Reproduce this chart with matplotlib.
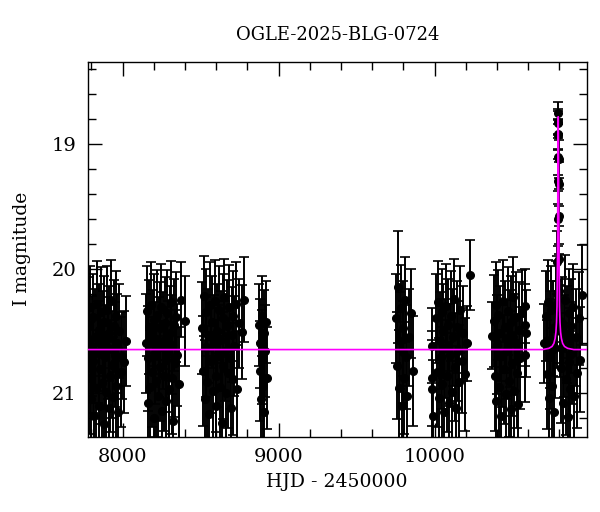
import numpy as np
import matplotlib
matplotlib.use('Agg')
import matplotlib.pyplot as plt
from matplotlib.ticker import MultipleLocator

plt.rcParams['font.family'] = ['DejaVu Serif']

# Light curve seasons (HJD - 2450000, I mag, error)
s1_t = [7782, 7788, 7793, 7797, 7803, 7809, 7812, 7818, 7824, 7829, 7833, 7840, 7846, 7851,
        7855, 7861, 7867, 7872, 7878, 7883, 7887, 7893, 7899, 7904, 7910, 7915, 7921, 7926,
        7932, 7938, 7943, 7949, 7955, 7960, 7966, 7972, 7979, 7986, 7995, 8010, 8024]
s1_m = [20.45, 20.88, 20.31, 21.05, 20.62, 20.74, 20.39, 21.18, 20.55, 20.96, 20.28, 20.67,
        21.10, 20.49, 20.81, 20.35, 20.92, 20.58, 21.25, 20.43, 20.71, 20.99, 20.33, 20.64,
        21.12, 20.52, 20.86, 20.26, 20.77, 21.03, 20.46, 20.69, 20.38, 20.94, 20.60, 21.15,
        20.50, 20.83, 20.70, 20.75, 20.58]
s1_e = [0.38, 0.45, 0.33, 0.50, 0.40, 0.42, 0.35, 0.52, 0.39, 0.47, 0.34, 0.41, 0.49, 0.37,
        0.44, 0.36, 0.46, 0.40, 0.53, 0.37, 0.42, 0.48, 0.35, 0.41, 0.50, 0.38, 0.45, 0.33,
        0.43, 0.48, 0.37, 0.42, 0.36, 0.46, 0.40, 0.51, 0.38, 0.44, 0.35, 0.41, 0.36]

s2_t = [8148, 8154, 8159, 8165, 8170, 8176, 8181, 8187, 8192, 8198, 8203, 8209, 8214, 8220,
        8225, 8231, 8236, 8242, 8247, 8253, 8258, 8264, 8269, 8275, 8280, 8286, 8291, 8297,
        8302, 8308, 8313, 8319, 8324, 8330, 8336, 8343, 8351, 8360, 8372, 8398]
s2_m = [20.60, 20.34, 21.08, 20.72, 20.47, 20.95, 20.29, 20.83, 20.56, 21.20, 20.41, 20.68,
        20.90, 20.37, 21.02, 20.63, 20.48, 20.79, 20.31, 21.14, 20.58, 20.86, 20.44, 20.73,
        21.06, 20.36, 20.66, 20.97, 20.52, 20.27, 20.88, 20.61, 21.22, 20.45, 20.76, 20.39,
        20.69, 20.93, 20.25, 20.42]
s2_e = [0.40, 0.36, 0.49, 0.42, 0.38, 0.46, 0.34, 0.44, 0.39, 0.52, 0.37, 0.41, 0.45, 0.36,
        0.48, 0.40, 0.37, 0.43, 0.35, 0.50, 0.39, 0.44, 0.37, 0.42, 0.48, 0.35, 0.40, 0.46,
        0.38, 0.33, 0.45, 0.40, 0.53, 0.37, 0.43, 0.36, 0.41, 0.46, 0.30, 0.36]

s3_t = [8508, 8514, 8520, 8526, 8531, 8537, 8543, 8549, 8554, 8560, 8566, 8572, 8577, 8583,
        8589, 8595, 8600, 8606, 8612, 8618, 8623, 8629, 8635, 8641, 8646, 8652, 8658, 8664,
        8669, 8675, 8681, 8687, 8692, 8698, 8704, 8710, 8716, 8724, 8733, 8745, 8762, 8778]
s3_m = [20.48, 20.82, 20.22, 21.05, 20.63, 20.35, 20.91, 20.54, 21.17, 20.29, 20.74, 20.43,
        20.98, 20.60, 20.26, 20.86, 21.10, 20.50, 20.70, 20.33, 20.95, 20.57, 21.24, 20.40,
        20.78, 20.23, 20.66, 21.00, 20.46, 20.84, 20.31, 20.72, 21.12, 20.53, 20.38, 20.89,
        20.62, 20.28, 20.97, 20.44, 20.51, 20.25]
s3_e = [0.37, 0.44, 0.32, 0.48, 0.40, 0.35, 0.45, 0.38, 0.51, 0.34, 0.42, 0.37, 0.47, 0.39,
        0.33, 0.45, 0.49, 0.38, 0.41, 0.35, 0.46, 0.39, 0.53, 0.36, 0.43, 0.31, 0.40, 0.48,
        0.37, 0.44, 0.34, 0.41, 0.50, 0.38, 0.36, 0.45, 0.40, 0.33, 0.47, 0.36, 0.38, 0.34]

s4_t = [8872, 8877, 8881, 8886, 8890, 8895, 8899, 8904, 8908, 8913, 8918, 8923]
s4_m = [20.45, 20.82, 20.60, 21.05, 20.38, 20.71, 20.94, 20.52, 21.15, 20.66, 20.43, 20.88]
s4_e = [0.33, 0.40, 0.36, 0.45, 0.32, 0.38, 0.42, 0.35, 0.48, 0.37, 0.33, 0.41]

s5_t = [9752, 9758, 9764, 9770, 9776, 9782, 9788, 9794, 9800, 9806, 9812, 9818, 9825, 9833,
        9845, 9860]
s5_m = [20.40, 20.78, 20.15, 20.96, 20.58, 20.32, 21.10, 20.67, 20.48, 20.88, 20.25, 20.71,
        21.02, 20.55, 20.36, 20.82]
s5_e = [0.36, 0.43, 0.45, 0.47, 0.39, 0.35, 0.50, 0.41, 0.38, 0.45, 0.34, 0.42, 0.48, 0.39,
        0.36, 0.44]

s6_t = [9980, 9982, 9984, 9986, 10008, 10014, 10020, 10026, 10032, 10038, 10044, 10050,
        10056, 10062, 10068, 10074, 10080, 10086, 10092, 10098, 10104, 10110, 10116, 10122,
        10128, 10134, 10140, 10147, 10155, 10163, 10172, 10182, 10195, 10205, 10228]
s6_m = [20.62, 20.88, 20.97, 21.18, 20.40, 20.83, 20.27, 21.04, 20.58, 20.71, 20.35, 20.93,
        20.50, 21.15, 20.64, 20.30, 20.86, 20.45, 21.08, 20.69, 20.38, 20.99, 20.55, 20.24,
        20.79, 21.12, 20.47, 20.66, 20.91, 20.33, 20.74, 20.52, 20.85, 20.60, 20.05]
s6_e = [0.30, 0.38, 0.40, 0.45, 0.36, 0.44, 0.33, 0.48, 0.39, 0.42, 0.35, 0.46, 0.38, 0.51,
        0.40, 0.34, 0.45, 0.37, 0.49, 0.41, 0.36, 0.47, 0.39, 0.32, 0.43, 0.50, 0.37, 0.40,
        0.46, 0.35, 0.42, 0.38, 0.45, 0.30, 0.28]

s7_t = [10365, 10378, 10384, 10390, 10396, 10402, 10408, 10414, 10420, 10426, 10432, 10438,
        10444, 10450, 10456, 10462, 10468, 10474, 10480, 10486, 10492, 10498, 10504, 10510,
        10516, 10522, 10528, 10535, 10542, 10550, 10558, 10578, 10580, 10582, 10584]
s7_m = [20.54, 20.42, 20.86, 20.29, 21.06, 20.61, 20.37, 20.95, 20.52, 21.18, 20.70, 20.26,
        20.81, 20.47, 21.01, 20.65, 20.34, 20.90, 20.56, 21.13, 20.43, 20.76, 20.23, 20.98,
        20.59, 20.39, 20.84, 21.09, 20.49, 20.72, 20.36, 20.30, 20.45, 20.69, 20.52]
s7_e = [0.27, 0.37, 0.44, 0.34, 0.48, 0.40, 0.36, 0.46, 0.38, 0.51, 0.41, 0.33, 0.44, 0.37,
        0.48, 0.40, 0.35, 0.45, 0.39, 0.50, 0.37, 0.42, 0.32, 0.47, 0.39, 0.36, 0.44, 0.49,
        0.38, 0.41, 0.35, 0.30, 0.33, 0.38, 0.35]

s8_t = [10703, 10712, 10718, 10724, 10730, 10736, 10742, 10748, 10754, 10760, 10766, 10772,
        10778, 10810, 10816, 10822, 10828, 10834, 10840, 10846, 10852, 10858, 10864, 10870,
        10876, 10882, 10888, 10895, 10903, 10912, 10922, 10932, 10946]
s8_m = [20.60, 20.38, 20.85, 20.27, 21.04, 20.57, 20.71, 20.33, 20.94, 20.48, 21.15, 20.64,
        20.29, 20.80, 20.44, 21.08, 20.62, 20.25, 20.89, 20.53, 21.19, 20.36, 20.75, 20.97,
        20.46, 20.68, 20.31, 21.02, 20.55, 20.84, 20.40, 20.73, 20.21]
s8_e = [0.32, 0.36, 0.44, 0.34, 0.48, 0.39, 0.42, 0.35, 0.46, 0.38, 0.51, 0.40, 0.35, 0.44,
        0.37, 0.49, 0.41, 0.36, 0.45, 0.39, 0.52, 0.36, 0.43, 0.47, 0.38, 0.41, 0.35, 0.48,
        0.39, 0.44, 0.37, 0.42, 0.40]

# points over the event peak
ev_t = [10782, 10785, 10787, 10788.5, 10789.5, 10790.3, 10791, 10791.6, 10792, 10792.4,
        10793, 10793.7, 10794.5, 10795.5, 10797, 10799, 10802, 10806]
ev_m = [20.45, 20.20, 19.95, 19.60, 19.30, 19.10, 18.92, 18.82, 18.75, 18.83, 18.93, 19.12,
        19.32, 19.58, 19.92, 20.18, 20.42, 20.50]
ev_e = [0.35, 0.30, 0.25, 0.22, 0.18, 0.15, 0.12, 0.10, 0.09, 0.10, 0.12, 0.15, 0.18, 0.22,
        0.26, 0.30, 0.34, 0.37]

# model curve
model_t = [7775, 10692, 10732, 10752, 10764, 10772, 10777, 10781, 10784, 10786, 10787, 10788,
           10789, 10790, 10791, 10792, 10793, 10794, 10795, 10796, 10797, 10798, 10800, 10803,
           10807, 10812, 10820, 10832, 10852, 10892, 10975]
model_m = [20.65, 20.65, 20.64, 20.625, 20.60, 20.56, 20.51, 20.43, 20.30, 20.05, 19.90, 19.70,
           19.45, 19.15, 18.90, 18.78, 18.90, 19.15, 19.45, 19.70, 19.90, 20.05, 20.30, 20.43,
           20.51, 20.56, 20.60, 20.625, 20.64, 20.65, 20.65]

t = np.concatenate([s1_t, s2_t, s3_t, s4_t, s5_t, s6_t, s7_t, s8_t, ev_t])
mag = np.concatenate([s1_m, s2_m, s3_m, s4_m, s5_m, s6_m, s7_m, s8_m, ev_m])
err = np.concatenate([s1_e, s2_e, s3_e, s4_e, s5_e, s6_e, s7_e, s8_e, ev_e])

fig = plt.figure(figsize=(6, 5.12), dpi=100)
ax = fig.add_axes([0.146, 0.147, 0.832, 0.732])

ax.errorbar(t, mag, yerr=err, fmt='o', color='black', ecolor='black', markersize=5.5,
            elinewidth=1.4, capsize=3.5, capthick=1.2)
ax.plot(model_t, model_m, color='#ff00ff', lw=1.2, zorder=5)

ax.set_xlim(7775, 10975)
ax.set_ylim(21.35, 18.34)
ax.xaxis.set_major_locator(MultipleLocator(1000))
ax.xaxis.set_minor_locator(MultipleLocator(200))
ax.yaxis.set_major_locator(MultipleLocator(1))
ax.yaxis.set_minor_locator(MultipleLocator(0.2))
ax.tick_params(which='both', direction='in', top=True, right=True, labelsize=14, width=1)
ax.tick_params(which='major', length=10, pad=8)
ax.tick_params(which='minor', length=6)
for s in ax.spines.values():
    s.set_linewidth(1)

fig.text(0.562, 0.932, 'OGLE-2025-BLG-0724', ha='center', va='center', fontsize=13)
fig.text(0.562, 0.059, 'HJD - 2450000', ha='center', va='center', fontsize=13.5)
fig.text(0.037, 0.513, 'I magnitude', ha='center', va='center', rotation=90, fontsize=13.5)

fig.savefig('out.png', dpi=100)
